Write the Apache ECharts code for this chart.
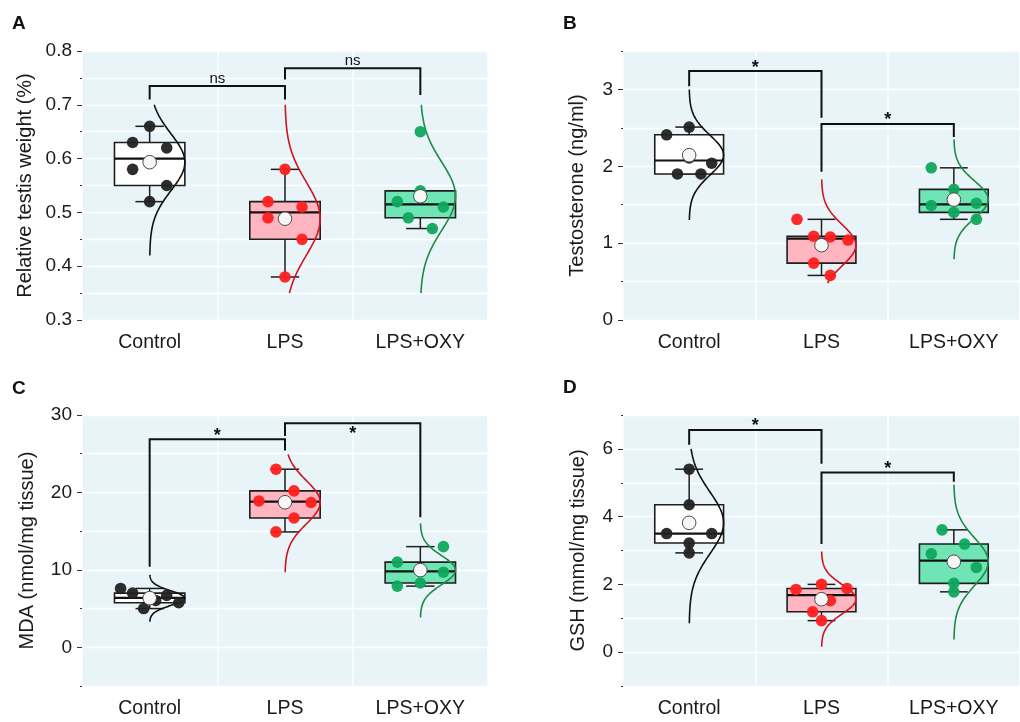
<!DOCTYPE html>
<html><head><meta charset="utf-8">
<script src="https://cdn.jsdelivr.net/npm/echarts@6/dist/echarts.min.js"></script>
<style>html,body{margin:0;padding:0;background:#fff}#c{width:1020px;height:722px}</style>
</head><body><div id="c"></div>
<script>
// ---------------- DATA ----------------
const categories = ['Control', 'LPS', 'LPS+OXY'];

// Panel A – Relative testis weight (%)
const ctrlA = [0.66, 0.63, 0.62, 0.58, 0.55, 0.52];
const lpsA  = [0.58, 0.52, 0.51, 0.49, 0.45, 0.38];
const oxyA  = [0.65, 0.54, 0.52, 0.51, 0.49, 0.47];
const jitterA = [[0,-17,17,-17,17,0],[0,-17,17,-17,17,0],[0,0,-23,23,-12,12]];
const curveRangeA = [[0.42,0.70],[0.35,0.70],[0.35,0.70]];
const bracketsA = [[0,1,0.735,0.710,0.710,'ns',0.749],[1,2,0.768,0.747,0.718,'ns',0.781]];
const yLabelsA = [0.3,0.4,0.5,0.6,0.7,0.8];

// Panel B – Testosterone (ng/ml)
const ctrlB = [2.51, 2.41, 2.11, 2.04, 1.90, 1.90];
const lpsB  = [1.31, 1.09, 1.08, 1.04, 0.74, 0.58];
const oxyB  = [1.98, 1.70, 1.52, 1.49, 1.40, 1.31];
const jitterB = [[0,-23,0,23,-12,12],[-25,-8,9,27,-8,9],[-23,0,23,-23,0,23]];
const curveRangeB = [[1.30,3.00],[0.48,1.83],[0.79,2.35]];
const bracketsB = [[0,1,3.24,3.04,2.63,'*',3.33],[1,2,2.55,1.93,2.38,'*',2.65]];
const yLabelsB = [0,1,2,3];

// Panel C – MDA (nmol/mg tissue)
const ctrlC = [7.6, 7.0, 6.7, 6.05, 5.75, 5.0];
const lpsC  = [23.0, 20.2, 18.9, 18.7, 16.7, 14.9];
const oxyC  = [13.0, 11.0, 9.7, 9.9, 7.9, 8.3];
const jitterC = [[-29,-17,17,6,29,-6],[-9,9,-26,26,9,-9],[23,-23,23,0,-23,0]];
const curveRangeC = [[3.3,9.35],[9.7,24.9],[3.85,16.0]];
const bracketsC = [[0,1,26.87,10.4,25.4,'*',27.86],[1,2,28.93,27.3,16.78,'*',28.07]];
const yLabelsC = [0,10,20,30];

// Panel D – GSH (mmol/mg tissue)
const ctrlD = [5.4, 4.35, 3.5, 3.5, 3.22, 2.93];
const lpsD  = [2.0, 1.88, 1.85, 1.52, 1.19, 0.93];
const oxyD  = [3.61, 3.19, 2.90, 2.50, 2.03, 1.78];
const jitterD = [[0,0,-23,23,0,0],[0,26,-26,9,-9,0],[-12,11,-23,23,0,0]];
const curveRangeD = [[0.85,6.0],[0.16,2.97],[0.37,4.94]];
const bracketsD = [[0,1,6.56,6.12,5.56,'*',6.78],[1,2,5.30,3.19,5.03,'*',5.53]];
const yLabelsD = [0,2,4,6];

// ---------------- STYLE / LAYOUT ----------------
const FONT = '"Liberation Sans", Arial, Helvetica, sans-serif';
const boxFills = ['#ffffff', '#ffb6c1', '#6fe5b5'];
const dotColors = ['#222222', '#ff1f1f', '#0fa65d'];
const curveColors = ['#111111', '#cf1420', '#1d8a45'];
const BG = '#e8f4f8';

const panels = [
  {letter:'A', vals:[ctrlA,lpsA,oxyA], jit:jitterA, curve:curveRangeA, br:bracketsA, labels:yLabelsA, dec:1,
   min:0.3, max:0.8, step:0.05, name:'Relative testis weight (%)', nameGap:47,
   grid:{left:82, top:51, width:406, height:269}, lpos:[12,14]},
  {letter:'B', vals:[ctrlB,lpsB,oxyB], jit:jitterB, curve:curveRangeB, br:bracketsB, labels:yLabelsB, dec:0,
   min:0, max:3.5, step:0.5, name:'Testosterone (ng/ml)', nameGap:36,
   grid:{left:623, top:51, width:406, height:269}, lpos:[563,14]},
  {letter:'C', vals:[ctrlC,lpsC,oxyC], jit:jitterC, curve:curveRangeC, br:bracketsC, labels:yLabelsC, dec:0,
   min:-5, max:30, step:5, name:'MDA (nmol/mg tissue)', nameGap:45,
   grid:{left:82, top:415, width:406, height:271}, lpos:[12,379]},
  {letter:'D', vals:[ctrlD,lpsD,oxyD], jit:jitterD, curve:curveRangeD, br:bracketsD, labels:yLabelsD, dec:0,
   min:-1, max:7, step:1, name:'GSH (mmol/mg tissue)', nameGap:35,
   grid:{left:623, top:415, width:406, height:271}, lpos:[563,378]}
];

// ---------------- HELPERS ----------------
function med(s){const n=s.length;return n%2?s[(n-1)/2]:(s[n/2-1]+s[n/2])/2;}
function stats(vals){
  const s=[...vals].sort((a,b)=>a-b), n=s.length, h=Math.floor(n/2);
  const lower=s.slice(0, n%2?h+1:h), upper=s.slice(h);
  const q1=med(lower), q3=med(upper), m=med(s), iqr=q3-q1;
  const lf=q1-1.5*iqr, uf=q3+1.5*iqr;
  const wlo=Math.min(...s.filter(v=>v>=lf)), whi=Math.max(...s.filter(v=>v<=uf));
  const mean=s.reduce((a,b)=>a+b,0)/n;
  const sd=Math.sqrt(s.reduce((a,b)=>a+(b-mean)*(b-mean),0)/(n-1));
  return {q1,q3,med:m,wlo,whi,mean,sd};
}

function boxRender(p, st){
  return function(params, api){
    const gi = api.value(0);
    const s = st[gi], vals = p.vals[gi];
    const cx = api.coord([gi, s.mean])[0];
    const bw = api.size([1, 0])[0];
    const Y = v => api.coord([gi, v])[1];
    const bh = 0.26*bw, ch = 0.105*bw, cw = 0.26*bw;
    const ink = '#1e1e1e';
    const ch_ = [];
    ch_.push({type:'line', shape:{x1:cx,y1:Y(s.q3),x2:cx,y2:Y(s.whi)}, style:{stroke:ink,lineWidth:1.5}});
    ch_.push({type:'line', shape:{x1:cx,y1:Y(s.q1),x2:cx,y2:Y(s.wlo)}, style:{stroke:ink,lineWidth:1.5}});
    ch_.push({type:'line', shape:{x1:cx-ch,y1:Y(s.whi),x2:cx+ch,y2:Y(s.whi)}, style:{stroke:ink,lineWidth:1.5}});
    ch_.push({type:'line', shape:{x1:cx-ch,y1:Y(s.wlo),x2:cx+ch,y2:Y(s.wlo)}, style:{stroke:ink,lineWidth:1.5}});
    ch_.push({type:'rect', shape:{x:cx-bh, y:Y(s.q3), width:2*bh, height:Y(s.q1)-Y(s.q3)},
      style:{fill:boxFills[gi], stroke:ink, lineWidth:1.6}});
    ch_.push({type:'line', shape:{x1:cx-bh,y1:Y(s.med),x2:cx+bh,y2:Y(s.med)}, style:{stroke:'#111',lineWidth:2.2}});
    const [lo, hi] = p.curve[gi];
    const pts = [];
    const N = 90;
    for (let k=0;k<=N;k++){
      const t = hi - (hi-lo)*k/N;
      const z = (t - s.mean)/s.sd;
      pts.push([cx + cw*Math.exp(-0.5*z*z), Y(t)]);
    }
    ch_.push({type:'polyline', shape:{points:pts}, style:{stroke:curveColors[gi], lineWidth:1.6, fill:null}});
    vals.forEach((v, k) => {
      ch_.push({type:'circle', shape:{cx: cx + p.jit[gi][k]/135*bw, cy: Y(v), r:5.8},
        style:{fill:dotColors[gi], opacity:0.95}});
    });
    ch_.push({type:'circle', shape:{cx:cx, cy:Y(s.mean), r:6.8}, style:{fill:'#f6f6f6', stroke:'#4a4a4a', lineWidth:1}});
    return {type:'group', children:ch_};
  };
}

function bracketRender(p){
  return function(params, api){
    const b = p.br[params.dataIndex];
    const x1 = api.coord([b[0], b[2]])[0], x2 = api.coord([b[1], b[2]])[0];
    const Y = v => api.coord([b[0], v])[1];
    const isStar = b[5] === '*';
    return {type:'group', children:[
      {type:'polyline', shape:{points:[[x1,Y(b[3])],[x1,Y(b[2])],[x2,Y(b[2])],[x2,Y(b[4])]]},
        style:{stroke:'#111', lineWidth:2, fill:null}},
      {type:'text', style:{text:b[5], x:(x1+x2)/2, y:Y(b[6]) + (isStar?4:0), align:'center', verticalAlign:'middle',
        font: isStar ? 'bold 18px '+FONT : '15px '+FONT, fill:'#111'}}
    ]};
  };
}

// ---------------- OPTION ----------------
const grids=[], xAxes=[], yAxes=[], series=[], graphics=[];
panels.forEach((p, i) => {
  const st = p.vals.map(stats);
  grids.push(Object.assign({show:true, backgroundColor:BG, borderWidth:0, containLabel:false}, p.grid));
  xAxes.push({type:'category', gridIndex:i, data:categories,
    axisLine:{show:false}, axisTick:{show:false},
    axisLabel:{fontSize:19.5, color:'#1a1a1a', margin:13, fontFamily:FONT},
    splitLine:{show:true, lineStyle:{color:'#ffffff', width:1.5}}});
  const isLab = v => p.labels.some(l => Math.abs(l - v) < 1e-6);
  yAxes.push({type:'value', gridIndex:i, position:'left', min:p.min, max:p.max, interval:p.step,
    axisLine:{show:false},
    axisTick:{show:true, length:2, lineStyle:{color:'#333', width:1}},
    axisLabel:{fontSize:19, color:'#1a1a1a', margin:10, fontFamily:FONT,
      formatter: v => isLab(v) ? Number(v).toFixed(p.dec) : ''},
    splitLine:{show:true, lineStyle:{color:'#ffffff', width:1.3}},
    name:p.name, nameLocation:'middle', nameGap:p.nameGap,
    nameTextStyle:{fontSize:20, color:'#1a1a1a', fontFamily:FONT}});
  yAxes.push({type:'value', gridIndex:i, position:'left', min:p.min, max:p.max, interval:p.step,
    axisLine:{show:false},
    axisTick:{show:true, length:5, customValues:p.labels, lineStyle:{color:'#333', width:1}},
    axisLabel:{show:false}, splitLine:{show:false}});
  series.push({type:'custom', xAxisIndex:i, yAxisIndex:2*i,
    data: st.map((s, k) => [k, s.mean]), renderItem: boxRender(p, st), z:3});
  series.push({type:'custom', xAxisIndex:i, yAxisIndex:2*i,
    data: p.br.map((b, k) => [b[0], b[2]]), renderItem: bracketRender(p), z:4});
  graphics.push({type:'text', left:p.lpos[0], top:p.lpos[1],
    style:{text:p.letter, font:'bold 19px '+FONT, fill:'#111'}});
});

const chart = echarts.init(document.getElementById('c'), null, {renderer:'canvas'});
chart.setOption({
  animation:false,
  textStyle:{fontFamily:FONT},
  grid:grids, xAxis:xAxes, yAxis:yAxes, series:series, graphic:graphics
});
</script></body></html>
